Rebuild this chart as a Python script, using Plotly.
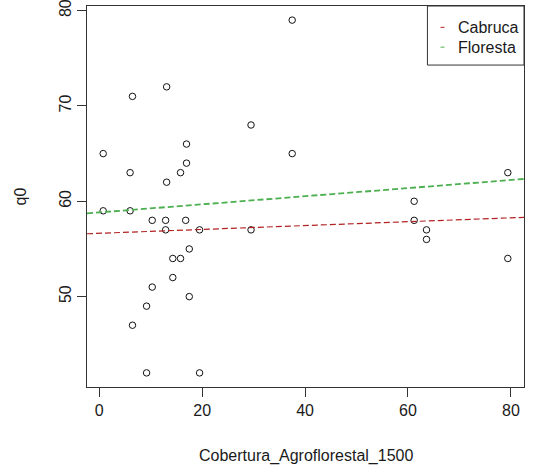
import plotly.graph_objects as go

# Agroforestry cover (%) within 1500 m and q0 diversity per site
cobertura = [13.1, 6.46, 29.5, 16.96, 0.77, 16.96, 6.0, 15.8, 13.1,
             0.77, 6.0, 10.3, 12.9, 16.8, 12.9, 19.5, 29.5, 17.5, 14.3, 15.8,
             14.3, 10.3, 17.5, 9.2, 6.46, 9.2, 19.5,
             37.5, 37.5, 79.4, 61.2, 61.2, 63.6, 63.6, 79.4]
q0 = [72, 71, 68, 66, 65, 64, 63, 63, 62,
      59, 59, 58, 58, 58, 57, 57, 57, 55, 54, 54,
      52, 51, 50, 49, 47, 42, 42,
      79, 65, 63, 60, 58, 57, 56, 54]

# Fitted lines per habitat: intercept and slope
habitats = ["Cabruca", "Floresta"]
intercepts = [56.64, 58.83]
slopes = [0.0203, 0.0425]
line_colors = ["#B22222", "#4CAF50"]
line_widths = [1.2, 1.8]

x_ticks = [0, 20, 40, 60, 80]
y_ticks = [50, 60, 70, 80]


def padded(vals, frac=0.04):
    lo, hi = min(vals), max(vals)
    d = (hi - lo) * frac
    return [lo - d, hi + d]


xr = padded(cobertura)
yr = padded(q0)

FONT = "Liberation Sans, Arial, sans-serif"
TXT = "#1a1a1a"

fig = go.Figure()
fig.add_trace(go.Scatter(
    x=cobertura, y=q0, mode="markers",
    marker=dict(symbol="circle-open", size=6.5, color="#111111", line=dict(width=1)),
    showlegend=False, hoverinfo="x+y",
))
for name, a, b, col, w in zip(habitats, intercepts, slopes, line_colors, line_widths):
    fig.add_trace(go.Scatter(
        x=xr, y=[a + b * xr[0], a + b * xr[1]], mode="lines", name=name,
        line=dict(color=col, width=w, dash="6px,3px"), showlegend=False,
    ))

axis_common = dict(
    showline=True, linecolor="#333333", linewidth=1, mirror=True,
    ticks="outside", ticklen=9, tickwidth=1, tickcolor="#333333",
    showgrid=False, zeroline=False, automargin=False,
    ticklabeloverflow="allow",
    tickfont=dict(family=FONT, size=16, color=TXT),
)
fig.update_xaxes(range=xr, tickvals=x_ticks, **axis_common)
fig.update_yaxes(range=yr, tickvals=y_ticks, tickangle=-90, **axis_common)

# Axis titles
annotations = [
    dict(text="Cobertura_Agroflorestal_1500", xref="paper", yref="paper",
         x=0.5, y=0, yshift=-69, showarrow=False, yanchor="middle",
         font=dict(family=FONT, size=16, color=TXT)),
    dict(text="q0", xref="paper", yref="paper", x=0, xshift=-67, y=0.5,
         textangle=-90, showarrow=False, xanchor="center",
         font=dict(family=FONT, size=16, color=TXT)),
]

# Legend box in the top-right corner
shapes = [dict(type="rect", xref="paper", yref="paper", x0=0.779, x1=1.0,
               y0=0.845, y1=1.0, line=dict(color="#333333", width=1),
               fillcolor="white", layer="above")]
legend_rows_y = [0.944, 0.892]
for name, col, ly in zip(habitats, line_colors, legend_rows_y):
    shapes.append(dict(type="line", xref="paper", yref="paper",
                       x0=0.809, x1=0.818, y0=ly, y1=ly,
                       line=dict(color=col, width=1)))
    annotations.append(dict(text=name, xref="paper", yref="paper", x=0.844, y=ly,
                            xanchor="left", yanchor="middle", showarrow=False,
                            font=dict(family=FONT, size=16, color=TXT)))

fig.update_layout(
    width=535, height=470,
    margin=dict(l=87, r=11, t=6, b=83),
    plot_bgcolor="white", paper_bgcolor="white",
    shapes=shapes, annotations=annotations, showlegend=False,
)

fig.write_html("out.html")
